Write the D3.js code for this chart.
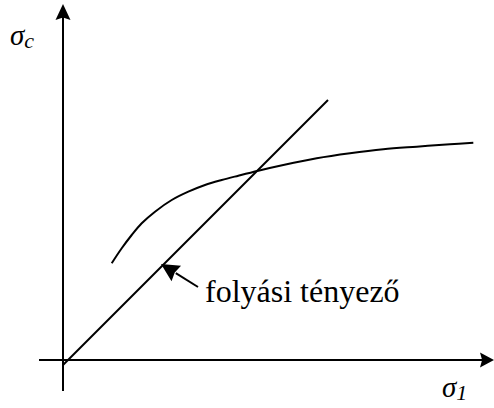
<!DOCTYPE html>
<html>
<head>
<meta charset="utf-8">
<script src="https://cdn.jsdelivr.net/npm/d3@7"></script>
<style>
  html, body { margin: 0; padding: 0; background: #fff; }
  svg { display: block; }
  .serif { font-family: "Times New Roman", "Liberation Serif", Times, serif; }
</style>
</head>
<body>
<svg id="chart" width="494" height="408"></svg>
<script>
// Flow-curve sketch: hardening curve vs. the 45° reference line.
const curveX = [12.18, 14.68, 17.18, 19.68, 23.0, 27.18, 31.33, 35.5, 39.68, 43.83, 48.83, 55.08, 63.43, 71.75, 80.08, 88.43, 96.75, 102.58];
const curveY = [24.18, 27.93, 31.25, 34.18, 37.08, 40.0, 42.08, 43.75, 45.0, 46.08, 47.33, 48.75, 50.43, 51.68, 52.68, 53.33, 53.93, 54.33];

const diagX = [0, 66.25];
const diagY = [-1.25, 65];

const axisXRange = [-6, 107.75];
const axisYRange = [-7.75, 89];

const annotText = "folyási tényező";
const annotTail = [33.75, 18.25];
const annotTip = [24.5, 24];
const annotPos = [35.5, 14.5];

const yLabel = ["σ", "c"];
const xLabel = ["σ", "1"];

const svg = d3.select("#chart");
const ox = 63, oy = 360, k = 4;
const x = d3.scaleLinear().domain([0, 1]).range([ox, ox + k]);
const y = d3.scaleLinear().domain([0, 1]).range([oy, oy - k]);

const black = "#000";

// arrowhead with a notched back, pointing along +x in local coords
function arrowHead(g, px, py, angleDeg, len, half, notch) {
  g.append("path")
    .attr("d", `M0,0 L${-len},${-half} L${-len * notch},0 L${-len},${half} Z`)
    .attr("fill", black)
    .attr("transform", `translate(${px},${py}) rotate(${angleDeg})`);
}

const g = svg.append("g");

// axes
g.append("line")
  .attr("x1", x(0)).attr("x2", x(0))
  .attr("y1", y(axisYRange[0])).attr("y2", y(axisYRange[1]) + 8)
  .attr("stroke", black).attr("stroke-width", 2);
arrowHead(g, x(0), y(axisYRange[1]), -90, 16, 7.5, 0.85);

g.append("line")
  .attr("x1", x(axisXRange[0])).attr("x2", x(axisXRange[1]) - 8)
  .attr("y1", y(0)).attr("y2", y(0))
  .attr("stroke", black).attr("stroke-width", 2);
arrowHead(g, x(axisXRange[1]), y(0), 0, 14, 7.5, 0.85);

// 45° line
g.append("line")
  .attr("x1", x(diagX[0])).attr("y1", y(diagY[0]))
  .attr("x2", x(diagX[1])).attr("y2", y(diagY[1]))
  .attr("stroke", black).attr("stroke-width", 2);

// hardening curve
const pts = curveX.map((v, i) => [v, curveY[i]]);
g.append("path")
  .datum(pts)
  .attr("d", d3.line().x(d => x(d[0])).y(d => y(d[1])).curve(d3.curveCatmullRom.alpha(0.5)))
  .attr("fill", "none").attr("stroke", black).attr("stroke-width", 2);

// annotation arrow
const tx = x(annotTail[0]), ty = y(annotTail[1]);
const hx = x(annotTip[0]), hy = y(annotTip[1]);
const ang = Math.atan2(hy - ty, hx - tx) * 180 / Math.PI;
g.append("line")
  .attr("x1", tx).attr("y1", ty)
  .attr("x2", hx + (tx - hx) * 0.4).attr("y2", hy + (ty - hy) * 0.4)
  .attr("stroke", black).attr("stroke-width", 2);
arrowHead(g, hx, hy, ang, 18, 9, 0.9);

g.append("text")
  .attr("class", "serif")
  .attr("x", x(annotPos[0])).attr("y", y(annotPos[1]))
  .attr("font-size", 32)
  .attr("fill", black)
  .text(annotText);

// axis labels
function sigmaLabel(px, py, parts, subDy) {
  const t = g.append("text")
    .attr("class", "serif")
    .attr("x", px).attr("y", py)
    .attr("font-style", "italic")
    .attr("font-size", 29)
    .attr("fill", black);
  t.append("tspan").text(parts[0]);
  t.append("tspan").attr("dy", subDy).attr("font-size", 22).text(parts[1]);
}
sigmaLabel(10, 45, yLabel, 3);
sigmaLabel(442, 397, xLabel, 3);
</script>
</body>
</html>
